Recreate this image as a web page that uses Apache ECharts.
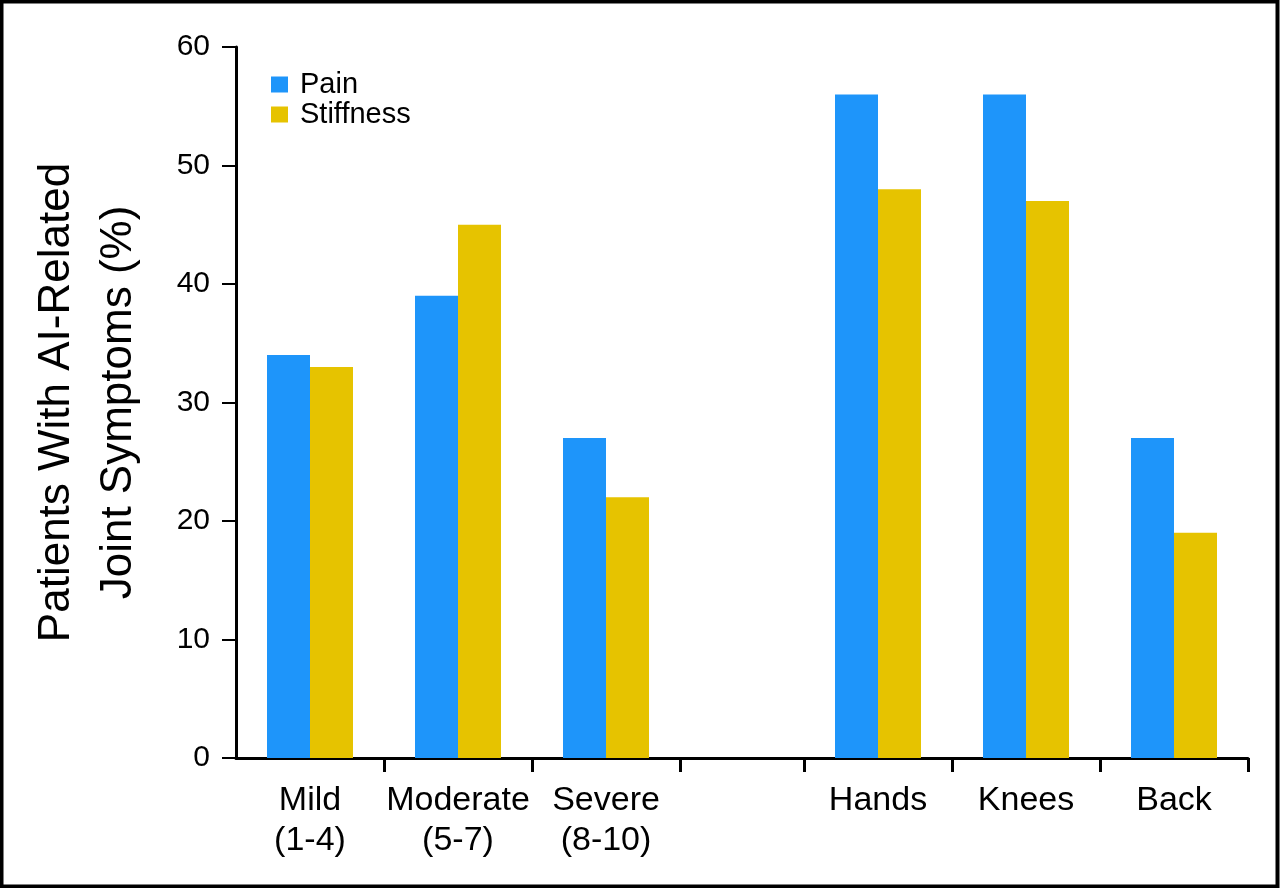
<!DOCTYPE html>
<html><head><meta charset="utf-8">
<script src="https://cdn.jsdelivr.net/npm/echarts@6/dist/echarts.min.js"></script>
<style>html,body{margin:0;padding:0;background:#fff}#c{width:1280px;height:888px}</style>
</head><body><div id="c"></div>
<script>
const severityCategories = ['Mild\n(1-4)', 'Moderate\n(5-7)', 'Severe\n(8-10)'];
const gapCategory = [''];
const siteCategories = ['Hands', 'Knees', 'Back'];
const severityPain = [34, 39, 27];
const severityStiffness = [33, 45, 22];
const sitePain = [56, 56, 27];
const siteStiffness = [48, 47, 19];
const seriesNames = ['Pain', 'Stiffness'];
const yMin = 0, yMax = 60, yStep = 10;
const yTitle = 'Patients With AI-Related\nJoint Symptoms (%)';

const FONT = "'Liberation Sans', Arial, sans-serif";
const BLUE = '#1E95FA', GOLD = '#E6C300';
const axisLine = { show: true, lineStyle: { color: '#000', width: 3 } };

function xAxisFor(gridIndex, data, showLabels) {
  return {
    type: 'category', gridIndex, data,
    axisLine,
    axisTick: { show: true, length: 14, lineStyle: { color: '#000', width: 3 },
      interval: gridIndex === 0 ? (i) => i !== 0 : 0 },
    axisLabel: { show: showLabels, interval: 0, color: '#000', fontFamily: FONT,
      fontSize: 34, lineHeight: 40, margin: 23 },
    splitLine: { show: false }
  };
}
function yAxisFor(gridIndex, visible) {
  const ax = {
    type: 'value', gridIndex, min: yMin, max: yMax, interval: yStep,
    show: visible, splitLine: { show: false }
  };
  if (visible) {
    Object.assign(ax, {
      axisLine,
      axisTick: { show: true, length: 14, lineStyle: { color: '#000', width: 2 } },
      axisLabel: { color: '#000', fontFamily: FONT, fontSize: 30, margin: 26 },
      name: yTitle, nameLocation: 'middle', nameRotate: 90, nameGap: 86,
      nameTextStyle: { color: '#000', fontFamily: FONT, fontSize: 44, lineHeight: 62 }
    });
  }
  return ax;
}
function bar(name, xi, data, color) {
  return { name, type: 'bar', xAxisIndex: xi, yAxisIndex: xi, data,
    barWidth: 43, barGap: '0%', itemStyle: { color }, silent: true };
}

const chart = echarts.init(document.getElementById('c'), null, { renderer: 'canvas' });
chart.setOption({
  animation: false,
  backgroundColor: '#fff',
  grid: [
    { left: 236, right: 600, top: 47, bottom: 130 },
    { left: 680, right: 476, top: 47, bottom: 130 },
    { left: 804, right: 32, top: 47, bottom: 130 }
  ],
  xAxis: [xAxisFor(0, severityCategories, true), xAxisFor(1, gapCategory, false), xAxisFor(2, siteCategories, true)],
  yAxis: [yAxisFor(0, true), yAxisFor(1, false), yAxisFor(2, false)],
  legend: {
    data: seriesNames, orient: 'vertical', left: 271, top: 70, padding: 0,
    itemWidth: 17, itemHeight: 16, itemGap: 1, icon: 'rect',
    textStyle: { color: '#000', fontFamily: FONT, fontSize: 29, lineHeight: 28, padding: [0, 0, 0, 7] },
    selectedMode: false
  },
  series: [
    bar(seriesNames[0], 0, severityPain, BLUE),
    bar(seriesNames[1], 0, severityStiffness, GOLD),
    bar(seriesNames[0], 2, sitePain, BLUE),
    bar(seriesNames[1], 2, siteStiffness, GOLD)
  ],
  graphic: [{
    type: 'rect', silent: true, z: 100,
    shape: { x: 1.5, y: 1.5, width: 1276, height: 885 },
    style: { fill: null, stroke: '#000', lineWidth: 4 }
  }]
});
</script></body></html>
